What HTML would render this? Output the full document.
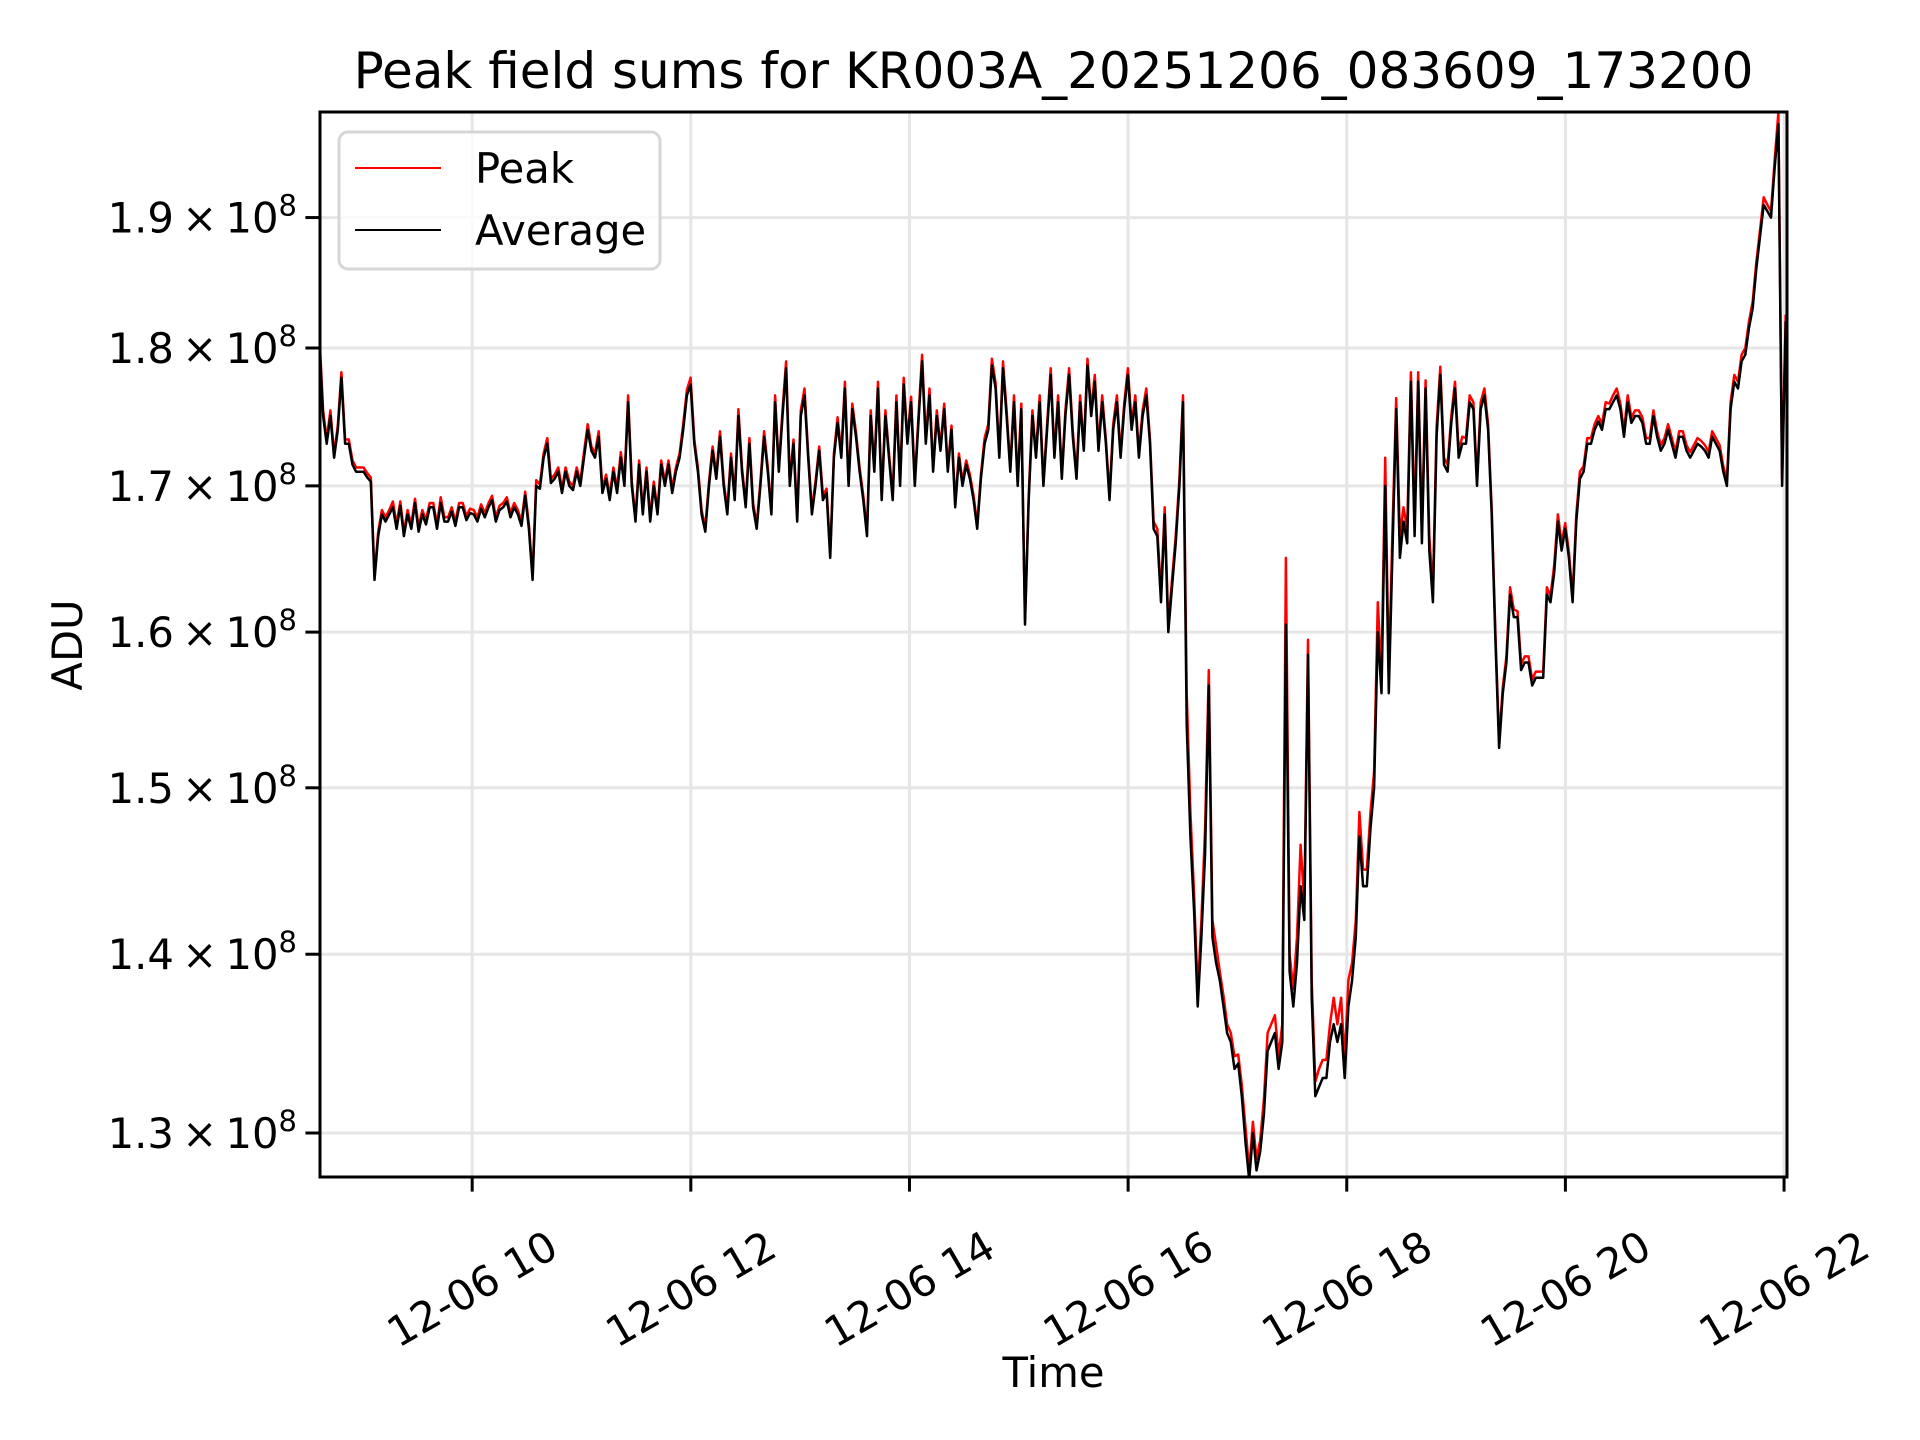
<!DOCTYPE html>
<html><head><meta charset="utf-8"><style>
html,body{margin:0;padding:0;background:#fff;}
svg{display:block;font-family:"DejaVu Sans","Liberation Sans",sans-serif;}
</style></head><body>
<svg id="chart" width="1920" height="1440" viewBox="0 0 1920 1440" xmlns="http://www.w3.org/2000/svg">
<rect width="1920" height="1440" fill="#fff"/>
<text x="1053.5" y="88" font-size="50" text-anchor="middle" fill="#000">Peak field sums for KR003A_20251206_083609_173200</text>
<g id="grid"></g>
<g id="series"></g>
<rect x="320" y="112" width="1467" height="1065" fill="none" stroke="#000" stroke-width="3"/>
<g id="axes"></g>
<text x="1053.5" y="1387" font-size="41.7" text-anchor="middle">Time</text>
<text transform="translate(82,645) rotate(-90)" font-size="41.7" text-anchor="middle">ADU</text>
<g>
<rect x="339" y="132" width="321" height="137" rx="9" fill="#fff" fill-opacity="0.8" stroke="#d6d6d6" stroke-width="3"/>
<line x1="355" y1="168" x2="441" y2="168" stroke="#ff0000" stroke-width="2"/>
<text x="475" y="183" font-size="41.7">Peak</text>
<line x1="355" y1="230" x2="441" y2="230" stroke="#000" stroke-width="2"/>
<text x="475" y="245" font-size="41.7">Average</text>
</g>
</svg>
<script>
const startHour = 8.6025;
const stepMinutes = 2.017;
const xTickHours = [10, 12, 14, 16, 18, 20, 22];
const xTickLabels = ["12-06 10","12-06 12","12-06 14","12-06 16","12-06 18","12-06 20","12-06 22"];
const yTickValues = [1.3, 1.4, 1.5, 1.6, 1.7, 1.8, 1.9];
const yTickLabels = ["1.3","1.4","1.5","1.6","1.7","1.8","1.9"];
// values in units of 1e6 ADU
const average = [
180.5,175,173,175,172,174,177.8,173,173,171.5,171,171,171,170.6,170.3,163.5,166.5,168,167.5,168,
168.5,167,168.6,166.5,168,167,168.8,166.8,168,167.3,168.5,168.5,167,168.8,167.5,167.5,168.2,167.2,168.5,168.5,
167.6,168.1,168,167.5,168.4,167.8,168.5,169,167.5,168.3,168.5,168.9,167.8,168.5,168,167.2,169.3,167,163.5,170,
169.8,172,173,170.2,170.5,171,169.5,171,170,169.7,171,170,172,174,172.5,172,173.5,169.5,170.5,169,
171,169.5,172,170,176,170,167.5,171.5,168,171,167.5,170,168,171.5,170,171.5,169.5,171,172,174,
176.5,177.3,173,171,168,166.8,170,172.5,170.5,173.5,170,168,172,169,175,171,168.5,173,168.5,167,
170,173.5,171,168,176,171,175,178.5,170,173,167.5,175,176.5,172,168,170,172.5,169,169.5,165,
172,174.5,172,177,170,175.5,173.5,171,169,166.5,175,171,177,169,175,172,169,176,170,177.3,
173,176,170,174.5,179,173,176.5,171,175,172.5,175.5,171,174,168.5,172,170,171.5,170.5,169,167,
170.5,173,174,178.7,177,172,178.5,175,171,176,170,175.5,160.5,169,175,172,176,170,174,178,
172,176,170.5,175,178,173.5,170.5,176,172.5,178.7,175,177.5,172.5,176,173,169,174,176,172,175.5,
178,174,176,172,175,176.5,173,167,166.5,162,168,160,163,166,170,176,154,147,142.5,137,
141,146,156.5,141,139.5,138.5,137,135.5,135,133.5,133.8,132,129.5,127.5,130,128,129,131,134.5,135,
135.5,133.5,135,160.5,139,137,139.5,144,142,158.5,137.5,132,132.5,133,133,135,136,135,136,133,
137,138.5,141,147,144,144,147.5,150,160,156,170,156,165.5,175.5,165,167.5,166,177.5,166.5,177.5,
166,177,165.5,162,173.5,178,171.5,171,174.5,177,172,173,173,176,175.5,170,175.5,176.5,174,168,
159.5,152.5,156,158,162.5,161,161,157.5,158,158,156.5,157,157,157,162.5,162,164,167.5,165.5,167,
165,162,167.5,170.5,171,173,173,174,174.6,174,175.5,175.5,176,176.5,175.5,173.5,176,174.5,175,175,
174.5,173,173,175,173.5,172.5,173,174,173,172,173.5,173.5,172.5,172,172.5,173,172.8,172.5,172,173.5,
173,172.5,171,170,175.5,177.5,177,179,179.5,181.5,183,186,188.5,191,190.5,190,194,197.5,170,182
];
const peak = [
181,175.4,173.3,175.4,172.3,174.3,178.2,173.3,173.3,171.8,171.3,171.3,171.3,170.9,170.6,163.8,166.8,168.3,167.8,168.3,
168.9,167.3,168.9,166.8,168.3,167.3,169.1,167.1,168.3,167.6,168.8,168.8,167.3,169.2,167.8,167.8,168.5,167.5,168.8,168.8,
167.9,168.4,168.3,167.8,168.7,168.1,168.8,169.3,167.8,168.6,168.8,169.2,168.1,168.8,168.3,167.5,169.6,167.3,163.8,170.4,
170.1,172.3,173.4,170.5,170.8,171.3,169.8,171.3,170.3,170,171.3,170.3,172.4,174.4,172.8,172.3,173.9,169.8,170.8,169.3,
171.3,169.8,172.4,170.3,176.5,170.3,167.8,171.8,168.3,171.3,167.8,170.3,168.3,171.8,170.3,171.8,169.8,171.3,172.3,174.4,
176.9,177.8,173.3,171.3,168.3,167.1,170.3,172.8,170.8,173.9,170.3,168.3,172.3,169.3,175.5,171.3,168.8,173.4,168.8,167.3,
170.3,173.9,171.3,168.3,176.5,171.3,175.4,179,170.3,173.3,167.8,175.4,177,172.3,168.3,170.3,172.8,169.3,169.8,165.3,
172.3,174.9,172.3,177.5,170.3,175.9,173.8,171.3,169.3,166.8,175.4,171.3,177.5,169.3,175.4,172.3,169.3,176.5,170.3,177.8,
173.3,176.4,170.3,174.9,179.5,173.3,177,171.3,175.4,172.8,175.9,171.3,174.3,168.8,172.3,170.3,171.8,170.8,169.3,167.3,
170.8,173.4,174.4,179.2,177.4,172.3,179,175.4,171.3,176.5,170.3,175.9,160.8,169.3,175.4,172.3,176.5,170.3,174.4,178.5,
172.3,176.5,170.8,175.4,178.5,173.9,170.8,176.5,172.8,179.2,175.4,178,172.8,176.5,173.3,169.3,174.4,176.5,172.3,175.9,
178.5,174.4,176.5,172.3,175.4,177,173.3,167.5,167,162.5,168.5,160.5,163.5,166.5,170.5,176.5,156,148.5,143.5,137.8,
142,147.5,157.5,142,140.5,139,137.6,136,135.5,134.2,134.3,132.6,130.3,128,130.6,128.6,129.6,131.8,135.5,136,
136.5,134.2,136,165,140,138,141,146.5,143,159.5,138.5,132.8,133.5,134,134,136,137.5,136,137.5,134,
138.5,139.5,142,148.5,145,145,148.5,151,162,157,172,157,167,176.3,166.5,168.5,167,178.2,167.5,178.2,
167,177.6,166.5,162.8,174.2,178.6,172,171.5,175,177.5,172.5,173.5,173.4,176.5,176,170.4,176,177,174.4,168.4,
160,153,156.4,158.4,163,161.5,161.4,157.9,158.4,158.4,156.9,157.4,157.4,157.4,163,162.4,164.5,168,166,167.4,
165.4,162.4,168,171,171.4,173.4,173.4,174.4,175,174.4,176,175.9,176.5,177,175.9,173.9,176.5,174.9,175.4,175.4,
174.9,173.4,173.4,175.4,173.9,172.9,173.4,174.4,173.4,172.4,173.9,173.9,172.9,172.4,172.9,173.4,173.2,172.9,172.4,173.9,
173.4,172.9,171.4,170.4,176,178,177.5,179.5,180,182,183.5,186.5,189,191.6,191,190.5,194.6,198.5,170.5,182.5
];

const NS = "http://www.w3.org/2000/svg";
const X0 = 320, X1 = 1787, Y0 = 112, Y1 = 1177;
const hMin = 8.608, hMax = 22.027;
const vMin = 127.65, vMax = 198.5;
function xScale(h){ return X0 + (h - hMin) / (hMax - hMin) * (X1 - X0); }
function yScale(v){ return Y1 - (Math.log(v) - Math.log(vMin)) / (Math.log(vMax) - Math.log(vMin)) * (Y1 - Y0); }
function mk(tag, attrs, parent){ const e = document.createElementNS(NS, tag); for (const k in attrs) e.setAttribute(k, attrs[k]); parent.appendChild(e); return e; }

const grid = document.getElementById('grid');
const axes = document.getElementById('axes');
const series = document.getElementById('series');

xTickHours.forEach((h, i) => {
  const x = xScale(h);
  const g = mk('line', {x1:x, y1:Y0, x2:x, y2:Y1, stroke:'#e6e6e6', 'stroke-width':3}, grid);
  
  
  const t = mk('line', {x1:x, y1:Y1, x2:x, y2:Y1+14.6, stroke:'#000', 'stroke-width':3}, axes);
  
  
  const lb = mk('text', {transform:`translate(${x},1289) rotate(-30)`, 'font-size':41.7, 'text-anchor':'middle', 'dominant-baseline':'central'}, axes);
  lb.textContent = xTickLabels[i];
  
  
});

yTickValues.forEach((v, i) => {
  const y = yScale(v * 100);
  const g = mk('line', {x1:X0, y1:y, x2:X1, y2:y, stroke:'#e6e6e6', 'stroke-width':3}, grid);
  
  
  const t = mk('line', {x1:X0-14.6, y1:y, x2:X0, y2:y, stroke:'#000', 'stroke-width':3}, axes);
  
  
  const lb = mk('text', {x:297, y:y+15, 'font-size':41.7, 'text-anchor':'end'}, axes);
  
  
  const a = document.createElementNS(NS, 'tspan'); a.textContent = yTickLabels[i] + '\u2009\u00d7\u200910'; lb.appendChild(a);
  const b = document.createElementNS(NS, 'tspan'); b.setAttribute('dy', '-17'); b.setAttribute('font-size', '29'); b.textContent = '8'; lb.appendChild(b);
});

function drawLine(vals, color, name){
  let d = '';
  vals.forEach((v, i) => {
    const h = startHour + i * stepMinutes / 60;
    d += (i ? 'L' : 'M') + xScale(h).toFixed(1) + ',' + yScale(v).toFixed(1);
  });
  const p = mk('path', {d:d, fill:'none', stroke:color, 'stroke-width':2.5, 'stroke-linejoin':'round'}, series);
  
  
}
const clip = mk('clipPath', {id:'plotclip'}, document.getElementById('chart'));
mk('rect', {x:X0, y:Y0, width:X1-X0, height:Y1-Y0}, clip);
series.setAttribute('clip-path', 'url(#plotclip)');
drawLine(peak, '#ff0000', 'peak-series-line');
drawLine(average, '#000000', 'average-series-line');
</script>
</body></html>
